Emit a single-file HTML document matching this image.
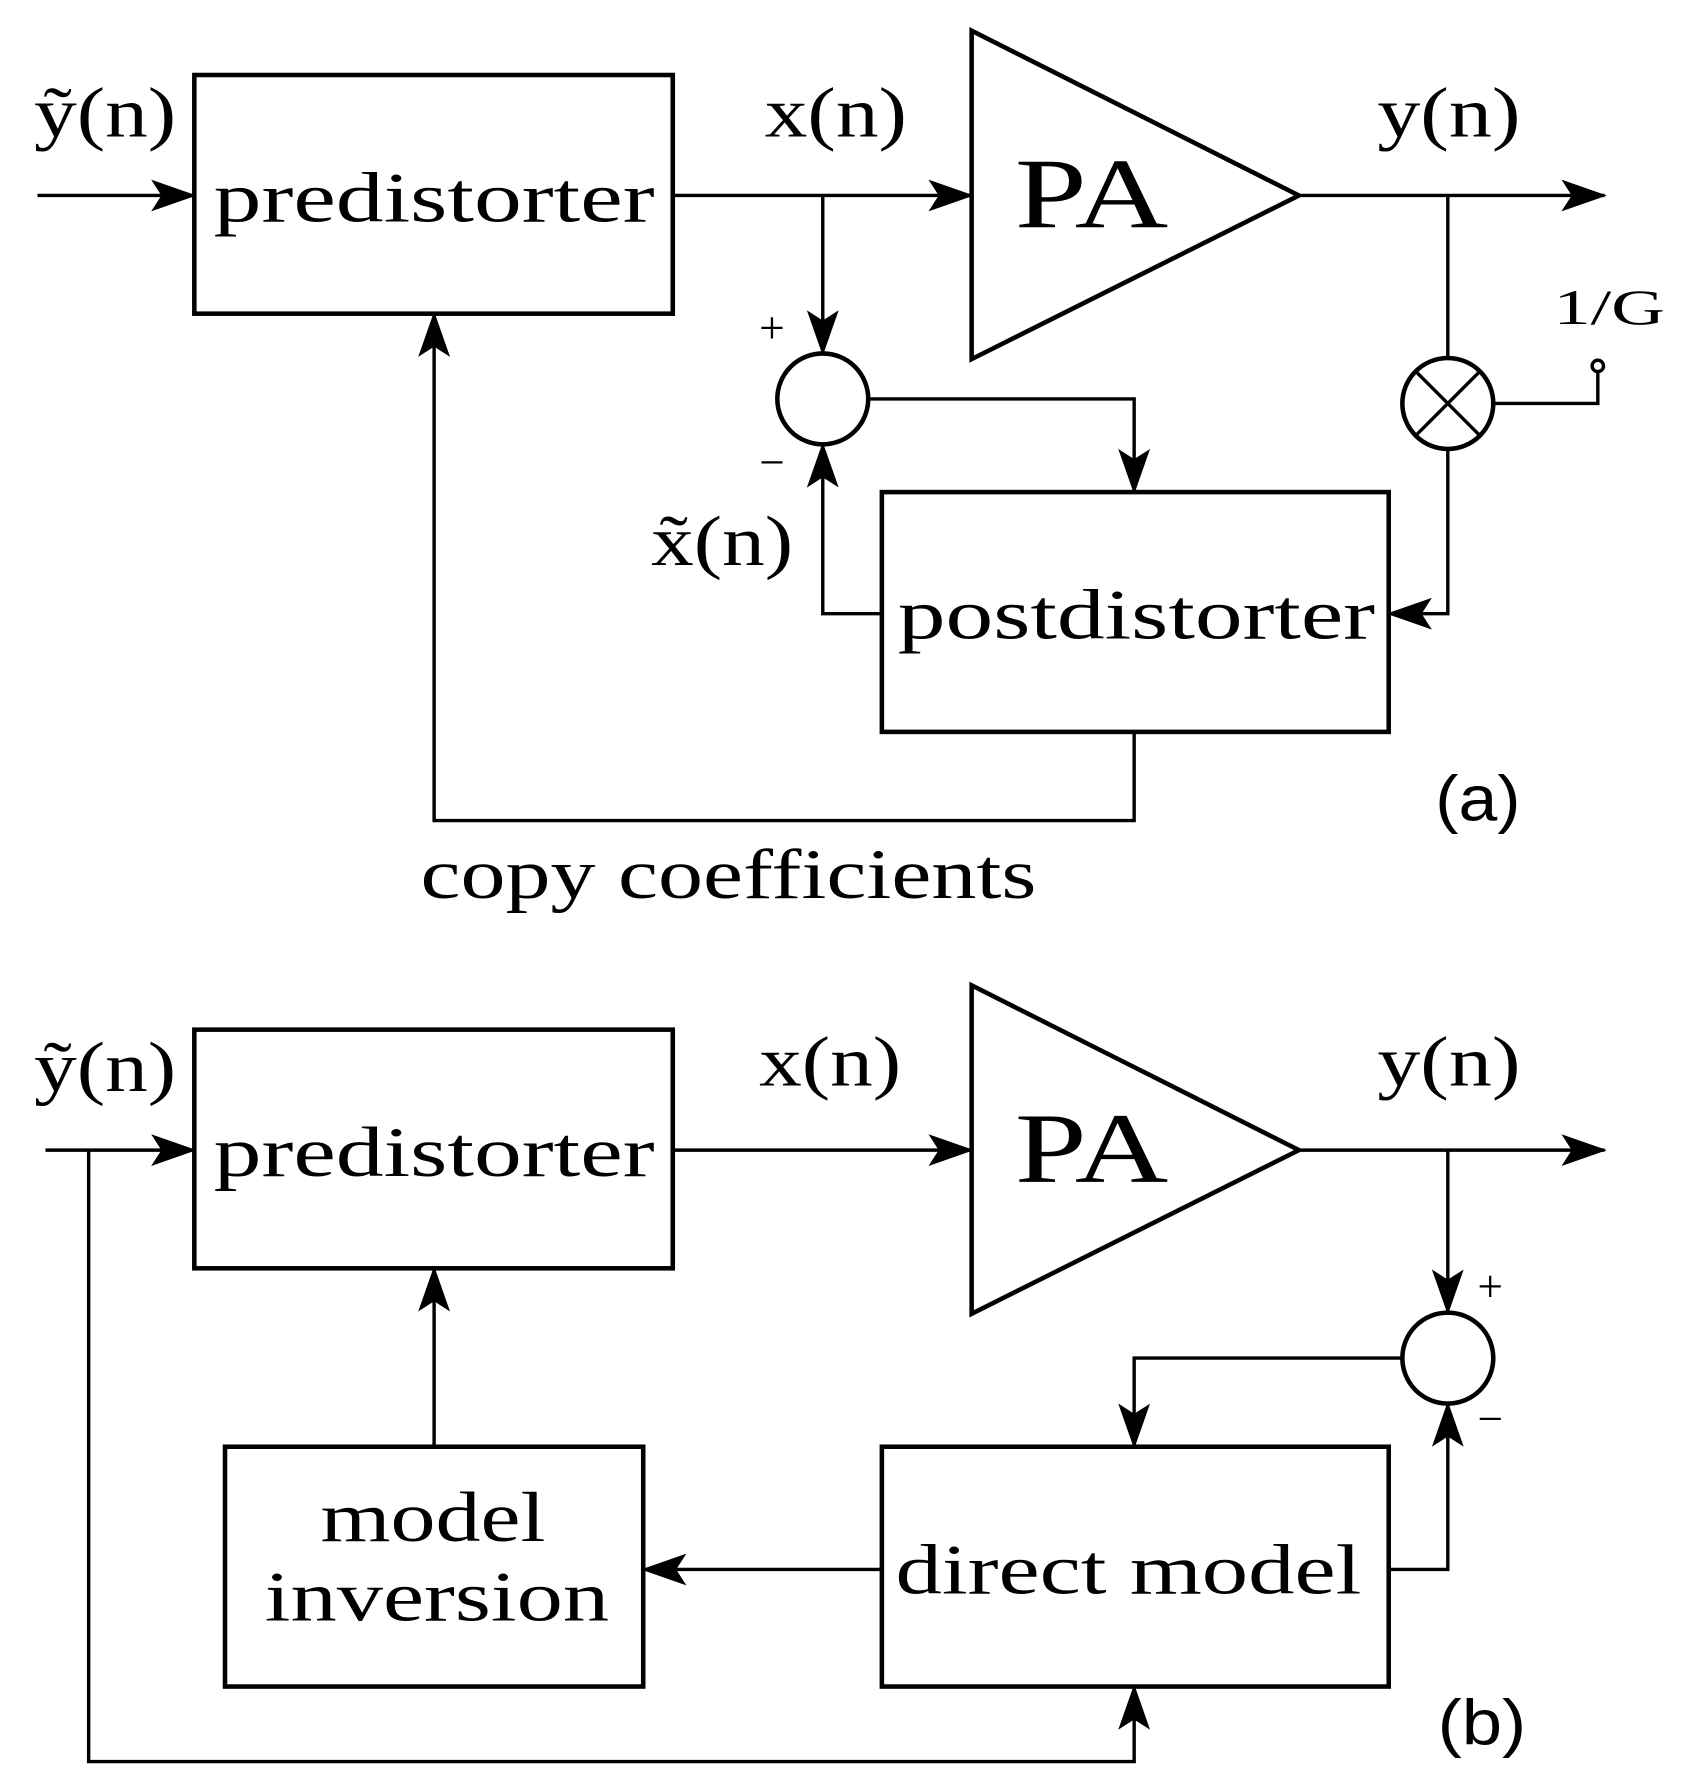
<!DOCTYPE html>
<html><head><meta charset="utf-8"><style>html,body{margin:0;padding:0;background:#fff}svg{display:block}</style></head>
<body>
<svg width="1691" height="1782" viewBox="0 0 1488 1568" preserveAspectRatio="none" xmlns="http://www.w3.org/2000/svg">
<defs>
<marker id="ar" markerWidth="40" markerHeight="28" refX="38" refY="14" orient="auto" markerUnits="userSpaceOnUse">
<path d="M0,0 L40,14 L0,28 L9,14 Z" fill="#000"/>
</marker>
</defs>
<g fill="none" stroke="#000" stroke-width="3">
<!-- (a) -->
<rect x="171" y="66" width="421" height="210" stroke-width="4"/>
<line x1="33" y1="172" x2="171" y2="172" marker-end="url(#ar)"/>
<line x1="592" y1="172" x2="855" y2="172" marker-end="url(#ar)"/>
<polygon points="855,27 855,316 1143,172" stroke-width="4"/>
<line x1="1143" y1="172" x2="1412" y2="172" marker-end="url(#ar)"/>
<line x1="724" y1="172" x2="724" y2="311" marker-end="url(#ar)"/>
<circle cx="724" cy="351" r="40" stroke-width="4"/>
<polyline points="764,351 998,351 998,433" marker-end="url(#ar)"/>
<rect x="776" y="433" width="446" height="211" stroke-width="4"/>
<polyline points="776,540 724,540 724,391" marker-end="url(#ar)"/>
<line x1="1274" y1="172" x2="1274" y2="315"/>
<circle cx="1274" cy="355" r="40" stroke-width="4"/>
<line x1="1246" y1="327" x2="1302" y2="383"/>
<line x1="1302" y1="327" x2="1246" y2="383"/>
<polyline points="1274,395 1274,540 1222,540" marker-end="url(#ar)"/>
<polyline points="1314,355 1406,355 1406,327"/>
<circle cx="1406" cy="322" r="5"/>
<polyline points="998,644 998,722 382,722 382,276" marker-end="url(#ar)"/>
<!-- (b) -->
<rect x="171" y="906" width="421" height="210" stroke-width="4"/>
<line x1="40" y1="1012" x2="171" y2="1012" marker-end="url(#ar)"/>
<polyline points="78,1012 78,1550 998,1550 998,1484" marker-end="url(#ar)"/>
<line x1="592" y1="1012" x2="855" y2="1012" marker-end="url(#ar)"/>
<polygon points="855,867 855,1156 1143,1012" stroke-width="4"/>
<line x1="1143" y1="1012" x2="1412" y2="1012" marker-end="url(#ar)"/>
<line x1="1274" y1="1012" x2="1274" y2="1155" marker-end="url(#ar)"/>
<circle cx="1274" cy="1195" r="40" stroke-width="4"/>
<polyline points="1234,1195 998,1195 998,1273" marker-end="url(#ar)"/>
<rect x="776" y="1273" width="446" height="211" stroke-width="4"/>
<polyline points="1222,1381 1274,1381 1274,1235" marker-end="url(#ar)"/>
<line x1="776" y1="1381" x2="566" y2="1381" marker-end="url(#ar)"/>
<rect x="198" y="1273" width="368" height="211" stroke-width="4"/>
<line x1="382" y1="1273" x2="382" y2="1116" marker-end="url(#ar)"/>
</g>
<g font-family="Liberation Serif, serif" fill="#000" font-size="62">
<text x="30" y="120" textLength="125" lengthAdjust="spacingAndGlyphs">ỹ(n)</text>
<text x="188" y="195" textLength="388" lengthAdjust="spacingAndGlyphs">predistorter</text>
<text x="673" y="120" textLength="125" lengthAdjust="spacingAndGlyphs">x(n)</text>
<text x="893" y="200" font-size="88" textLength="135" lengthAdjust="spacingAndGlyphs">PA</text>
<text x="1212" y="120" textLength="126" lengthAdjust="spacingAndGlyphs">y(n)</text>
<text x="668" y="302" font-size="40">+</text>
<text x="668" y="420" font-size="40">−</text>
<text x="573" y="497" textLength="125" lengthAdjust="spacingAndGlyphs">x̃(n)</text>
<text x="790" y="562" textLength="420" lengthAdjust="spacingAndGlyphs">postdistorter</text>
<text x="1367" y="285" font-size="44" textLength="98" lengthAdjust="spacingAndGlyphs">1/G</text>
<text x="1263" y="722" font-family="Liberation Sans, sans-serif" font-size="56" textLength="75" lengthAdjust="spacingAndGlyphs">(a)</text>
<text x="370" y="790" textLength="542" lengthAdjust="spacingAndGlyphs">copy coefficients</text>
<text x="30" y="960" textLength="125" lengthAdjust="spacingAndGlyphs">ỹ(n)</text>
<text x="188" y="1035" textLength="388" lengthAdjust="spacingAndGlyphs">predistorter</text>
<text x="668" y="955" textLength="125" lengthAdjust="spacingAndGlyphs">x(n)</text>
<text x="893" y="1040" font-size="88" textLength="135" lengthAdjust="spacingAndGlyphs">PA</text>
<text x="1212" y="955" textLength="126" lengthAdjust="spacingAndGlyphs">y(n)</text>
<text x="1300" y="1145" font-size="40">+</text>
<text x="1300" y="1262" font-size="40">−</text>
<text x="788" y="1402" textLength="410" lengthAdjust="spacingAndGlyphs">direct model</text>
<text x="282" y="1356" textLength="198" lengthAdjust="spacingAndGlyphs">model</text>
<text x="233" y="1426" textLength="303" lengthAdjust="spacingAndGlyphs">inversion</text>
<text x="1265" y="1535" font-family="Liberation Sans, sans-serif" font-size="56" textLength="78" lengthAdjust="spacingAndGlyphs">(b)</text>
</g>
</svg>
</body></html>
